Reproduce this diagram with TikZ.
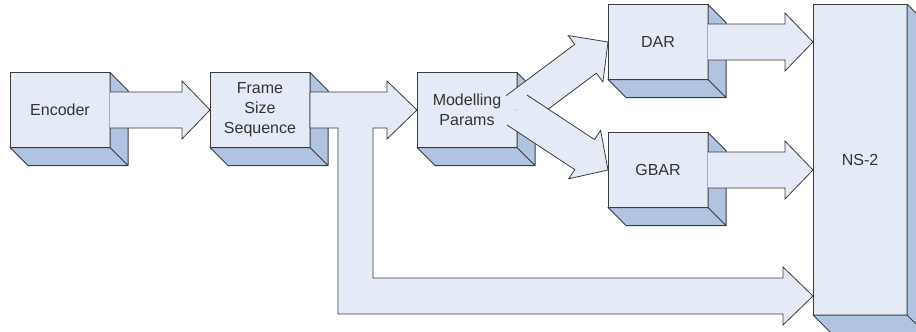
\documentclass[tikz,border=0pt]{standalone}
\usepackage{fontspec}
\setmainfont{Liberation Sans}
\usetikzlibrary{calc}
\definecolor{bxface}{HTML}{E4EAF6}
\definecolor{bxside}{HTML}{B0C4E2}
\definecolor{bxline}{HTML}{3C3C3C}
\definecolor{bxtext}{HTML}{333333}

% wide block arrow from #1 to #2, open at its tail
\newcommand{\fatarrow}[2]{%
  \coordinate (fah) at ($(#2)!28pt!(#1)$);
  \coordinate (fa1) at ($(#1)!18pt!90:(#2)$);
  \coordinate (fa2) at ($(fah)!18pt!90:(#2)$);
  \coordinate (fa3) at ($(fah)!29pt!90:(#2)$);
  \coordinate (fa4) at ($(fah)!29pt!-90:(#2)$);
  \coordinate (fa5) at ($(fah)!18pt!-90:(#2)$);
  \coordinate (fa6) at ($(#1)!18pt!-90:(#2)$);
  \fill[bxface] (fa1) -- (fa2) -- (fa3) -- (#2) -- (fa4) -- (fa5) -- (fa6) -- cycle;
  \draw[fat] (fa1) -- (fa2) -- (fa3) -- (#2) -- (fa4) -- (fa5) -- (fa6);}

\begin{document}
\begin{tikzpicture}[x=1pt, y=-1pt, font=\fontsize{16}{20}\selectfont, text=bxtext,
      blk/.style={draw=bxline, fill=bxface, line width=1pt, outer sep=0pt, minimum width=100pt, minimum height=75pt, align=center, inner sep=2pt},
      side/.style={draw=bxline, fill=bxside, line width=1pt, line join=round},
      fat/.style={draw=bxline, line width=.8pt, line join=miter}]
      \clip (0,0) rectangle (916,332);

      \node[blk] (enc) at (60,110) {Encoder};
      \node[blk] (fss) at (260,110) {Frame\\Size\\Sequence};
      \node[blk] (mod) at (467,110) {Modelling\\Params};
      \node[blk] (dar) at (658,42) {DAR};
      \node[blk] (gbar) at (658,170) {GBAR};
      \node[blk, minimum width=94pt, minimum height=311pt] (ns) at (860,159.5) {NS-2};

      % 3d depth of the blocks
      \foreach \b in {enc,fss,mod,dar,gbar,ns}
        \filldraw[side] (\b.north east) -- ++(18,18) -- ($(\b.south east)+(18,18)$) -- (\b.south east) -- cycle
                        (\b.south west) -- ++(18,18) -- ($(\b.south east)+(18,18)$) -- (\b.south east) -- cycle;

      \coordinate (ns-dar) at (ns.west |- dar.east);
      \coordinate (ns-gbar) at (ns.west |- gbar.east);
      \coordinate (ns-fss) at ($(ns.south west)+(0,-19)$);
      \coordinate (pipe) at ($(fss.east)+(28,0)$);

      \fatarrow{enc.east}{fss.west}
      \filldraw[fat, fill=bxface] ($(fss.east)+(0,-18)$) -- ($(mod.west)+(-30,-18)$) -- ($(mod.west)+(-30,-29)$) -- (mod.west)
        -- ($(mod.west)+(-30,29)$) -- ($(mod.west)+(-30,18)$) -- ($(pipe)+(35,18)$) -- ($(pipe |- ns-fss)+(35,-18)$)
        -- ($(ns-fss)+(-30,-18)$) -- ($(ns-fss)+(-30,-29)$) -- (ns-fss) -- ($(ns-fss)+(-30,29)$) -- ($(ns-fss)+(-30,18)$)
        -- ($(pipe |- ns-fss)+(0,18)$) -- ($(pipe)+(0,18)$) -- ($(fss.east)+(0,18)$) -- cycle;
      \fatarrow{mod.east}{dar.west}
      \fatarrow{mod.east}{gbar.west}
      \fatarrow{dar.east}{ns-dar}
      \fatarrow{gbar.east}{ns-gbar}
    \end{tikzpicture}
\end{document}
